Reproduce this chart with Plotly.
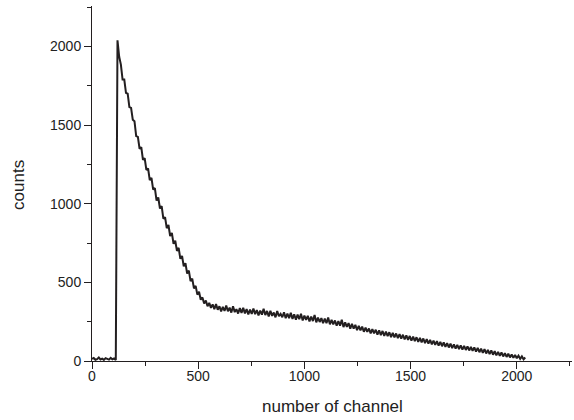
import plotly.graph_objects as go

# channel numbers (sampled every 8 channels)
channels = list(range(0, 2048, 8))

# counts
counts = [
    14, 19, 8, 12, 22, 10, 15, 7,
    18, 13, 9, 20, 11, 16, 6, 2040,
    1935, 1885, 1790, 1790, 1705, 1700, 1615, 1610,
    1535, 1525, 1430, 1425, 1350, 1360, 1280, 1290,
    1215, 1225, 1150, 1165, 1090, 1100, 1020, 1040,
    970, 985, 905, 915, 845, 865, 795, 815,
    745, 765, 700, 720, 650, 668, 602, 622,
    556, 575, 508, 524, 462, 478, 422, 440,
    390, 404, 366, 384, 348, 370, 338, 360,
    330, 362, 326, 348, 316, 345, 318, 352,
    316, 340, 308, 348, 311, 330, 302, 336,
    306, 338, 303, 330, 296, 327, 300, 334,
    298, 324, 290, 321, 295, 332, 292, 318,
    284, 320, 287, 308, 278, 318, 285, 300,
    278, 310, 272, 302, 273, 306, 268, 297,
    262, 295, 266, 300, 258, 289, 261, 287,
    252, 283, 254, 292, 246, 276, 248, 273,
    240, 270, 241, 276, 233, 262, 233, 258,
    224, 254, 225, 262, 216, 246, 217, 241,
    206, 236, 206, 230, 196, 224, 195, 219,
    186, 213, 185, 207, 176, 203, 176, 199,
    168, 195, 164, 191, 160, 187, 158, 183,
    152, 179, 150, 175, 146, 171, 142, 167,
    138, 163, 134, 159, 130, 155, 126, 151,
    122, 147, 118, 143, 114, 139, 110, 135,
    106, 130, 102, 126, 98, 122, 94, 118,
    90, 114, 86, 110, 82, 106, 79, 102,
    76, 99, 73, 96, 70, 93, 67, 90,
    64, 87, 60, 83, 56, 79, 52, 75,
    48, 71, 44, 67, 40, 62, 36, 58,
    33, 54, 29, 50, 26, 46, 23, 42,
    20, 38, 17, 34, 14, 29, 11, 22,
]

x_ticks = [0, 500, 1000, 1500, 2000]
y_ticks = [0, 500, 1000, 1500, 2000]
x_title = "number of channel"
y_title = "counts"

ink = "#231f20"
family = "Liberation Sans, Arial, sans-serif"
tick_font = dict(family=family, size=14, color="#222222")
title_font = dict(family=family, size=17, color="#222222")

fig = go.Figure(go.Scatter(
    x=channels[:len(counts)], y=counts, mode="lines",
    line=dict(color=ink, width=2),
    showlegend=False, hoverinfo="skip",
))

axis_common = dict(
    showline=True, linecolor=ink, linewidth=1, mirror=False,
    showgrid=False, zeroline=False,
    ticks="outside", ticklen=7, tickwidth=1, tickcolor=ink,
    minor=dict(ticks="outside", ticklen=4, tickwidth=1, tickcolor=ink, dtick=250, showgrid=False),
    tickfont=tick_font,
)

fig.update_xaxes(range=[0, 2260], tickvals=x_ticks, ticklabelstandoff=-5, **axis_common)
fig.update_yaxes(range=[0, 2258], tickvals=y_ticks, **axis_common)

fig.update_layout(
    width=574, height=420,
    margin=dict(l=92, r=2, t=6, b=59),
    paper_bgcolor="white", plot_bgcolor="white",
    font=tick_font,
    annotations=[
        dict(text=x_title, xref="paper", yref="paper", x=0.5, y=-0.129,
             xanchor="center", yanchor="middle", showarrow=False, font=title_font),
        dict(text=y_title, xref="paper", yref="paper", x=-0.152, y=0.496,
             xanchor="center", yanchor="middle", textangle=-90, showarrow=False,
             font=title_font),
    ],
)

fig.write_html("out.html")
